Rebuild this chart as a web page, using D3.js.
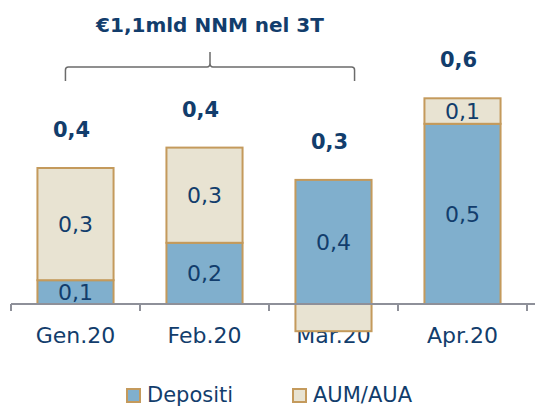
<!DOCTYPE html>
<html>
<head>
<meta charset="utf-8">
<script src="https://cdn.jsdelivr.net/npm/d3@7"></script>
<style>
  body { margin: 0; background: #fff; }
  svg { display: block; font-family: "DejaVu Sans", sans-serif; }
</style>
</head>
<body>
<svg width="535" height="408"></svg>
<script>
// Chart data
const months = ["Gen.20", "Feb.20", "Mar.20", "Apr.20"];
const depositi = [0.07, 0.18, 0.365, 0.53];
const aum = [0.33, 0.28, -0.08, 0.075];
const depositiLabels = ["0,1", "0,2", "0,4", "0,5"];
const aumLabels = ["0,3", "0,3", "", "0,1"];
const totalLabels = ["0,4", "0,4", "0,3", "0,6"];
const seriesNames = ["Depositi", "AUM/AUA"];
const titleText = "€1,1mld NNM nel 3T";

const navy = "#123d6c";
const colors = ["#80afcd", "#e8e3d2"];
const edge = "#c49a5c";

const svg = d3.select("svg");

// Scales
const x = d3.scaleBand()
    .domain(months)
    .range([11, 527])
    .paddingInner(0.41)
    .paddingOuter(0.205);

const y = d3.scaleLinear()
    .domain([0, 0.6])
    .range([304, 100]);

// Build stacked segments (positive stack up, negative go down from zero)
const segs = [];
months.forEach((m, i) => {
    let pos = 0, neg = 0;
    [depositi[i], aum[i]].forEach((v, s) => {
        let y0, y1;
        if (v >= 0) { y0 = pos; y1 = pos + v; pos = y1; }
        else { y0 = neg; y1 = neg + v; neg = y1; }
        segs.push({ m, s, y0, y1, label: s === 0 ? depositiLabels[i] : aumLabels[i] });
    });
});

// Month labels first - the negative Mar bar sits over its label
svg.append("g").selectAll("text")
    .data(months)
    .join("text")
    .attr("x", d => x(d) + x.bandwidth() / 2)
    .attr("y", 343)
    .attr("text-anchor", "middle")
    .attr("fill", navy)
    .attr("font-size", 22)
    .text(d => d);

// Bars
svg.append("g").selectAll("rect")
    .data(segs)
    .join("rect")
    .attr("x", d => x(d.m))
    .attr("width", x.bandwidth())
    .attr("y", d => y(Math.max(d.y0, d.y1)))
    .attr("height", d => Math.abs(y(d.y0) - y(d.y1)))
    .attr("fill", d => colors[d.s])
    .attr("stroke", edge)
    .attr("stroke-width", 2);

// Segment labels
svg.append("g").selectAll("text")
    .data(segs.filter(d => d.label))
    .join("text")
    .attr("x", d => x(d.m) + x.bandwidth() / 2)
    .attr("y", d => y((d.y0 + d.y1) / 2))
    .attr("dy", "0.36em")
    .attr("text-anchor", "middle")
    .attr("fill", navy)
    .attr("font-size", 22)
    .text(d => d.label);

// Axis line and ticks on top
const axisG = svg.append("g");
axisG.append("line")
    .attr("x1", 11).attr("x2", 535)
    .attr("y1", y(0)).attr("y2", y(0))
    .attr("stroke", "#8e9099").attr("stroke-width", 2);
const step = x.step();
axisG.selectAll(".tick")
    .data(d3.range(months.length + 1))
    .join("line")
    .attr("x1", i => 11 + i * step).attr("x2", i => 11 + i * step)
    .attr("y1", y(0)).attr("y2", y(0) + 7)
    .attr("stroke", "#8e9099").attr("stroke-width", 2);

// Totals above bars
svg.append("g").selectAll("text")
    .data(months)
    .join("text")
    .attr("x", (d, i) => x(d) + x.bandwidth() / 2 - 4)
    .attr("y", (d, i) => y(Math.max(depositi[i], depositi[i] + aum[i])) - 31)
    .attr("text-anchor", "middle")
    .attr("fill", navy)
    .attr("font-size", 21)
    .attr("font-weight", "bold")
    .text((d, i) => totalLabels[i]);

// Brace over first three months
const bx0 = x(months[0]) + 28, bx1 = x(months[2]) + x.bandwidth() - 17;
const bm = (bx0 + bx1) / 2, by = 67;
svg.append("path")
    .attr("d", `M${bx0},81 V${by + 3} Q${bx0},${by} ${bx0 + 3},${by} H${bm - 3} Q${bm},${by} ${bm},${by - 4} V52 M${bm},${by - 4} Q${bm},${by} ${bm + 3},${by} H${bx1 - 3} Q${bx1},${by} ${bx1},${by + 3} V81`)
    .attr("fill", "none")
    .attr("stroke", "#6b6b6b")
    .attr("stroke-width", 1.5);

svg.append("text")
    .attr("x", bm)
    .attr("y", 32)
    .attr("text-anchor", "middle")
    .attr("fill", navy)
    .attr("font-size", 20)
    .attr("font-weight", "bold")
    .text(titleText);

// Legend
const legend = svg.append("g");
const legX = [127, 293];
seriesNames.forEach((n, i) => {
    legend.append("rect")
        .attr("x", legX[i]).attr("y", 389)
        .attr("width", 13).attr("height", 13)
        .attr("fill", colors[i])
        .attr("stroke", edge).attr("stroke-width", 2);
    legend.append("text")
        .attr("x", legX[i] + 20).attr("y", 402)
        .attr("fill", navy)
        .attr("font-size", 21)
        .text(n);
});
</script>
</body>
</html>
